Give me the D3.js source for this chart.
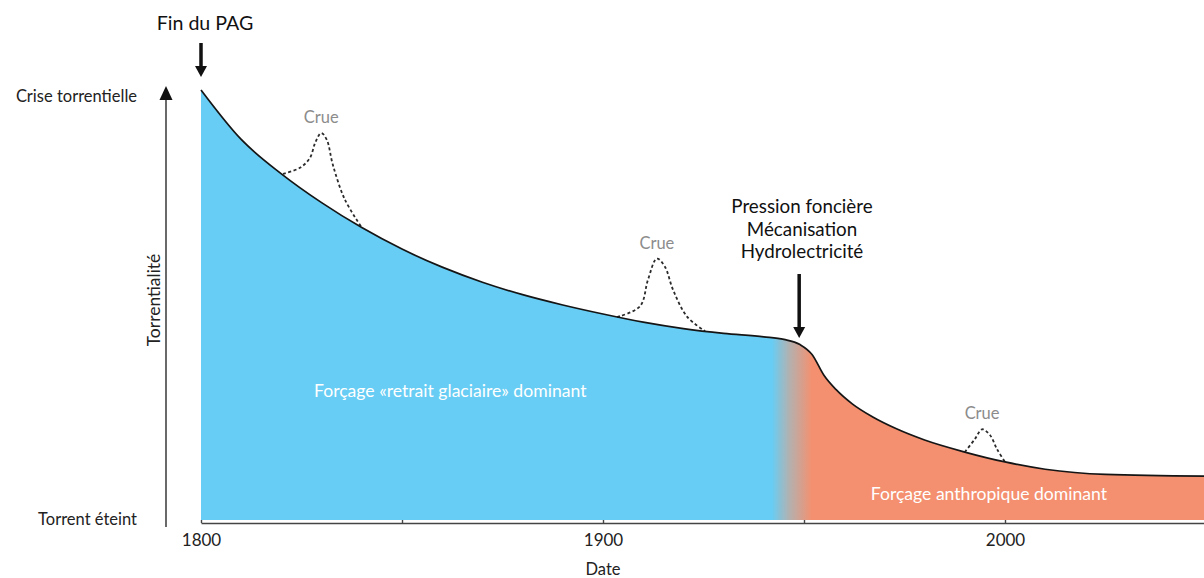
<!DOCTYPE html>
<html>
<head>
<meta charset="utf-8">
<script src="https://cdn.jsdelivr.net/npm/d3@7"></script>
<style>
	html, body { margin: 0; padding: 0; background: #fff; }
	svg { display: block; font-family: Lato, "Open Sans", sans-serif; }
</style>
</head>
<body>
<svg id="chart"></svg>
<script>
// Main curve: torrentiality (0 = extinct torrent, 100 = torrential crisis)
const years = [ 1800, 1810, 1820, 1830, 1840, 1850, 1860, 1870, 1880, 1890, 1900, 1910, 1920, 1930, 1940, 1945, 1949, 1952, 1955, 1958, 1962, 1967, 1973, 1980, 1990, 2000, 2010, 2025, 2050 ];
const torrentiality = [ 100, 88.5, 80.5, 73.8, 68.0, 63.0, 58.8, 55.3, 52.4, 50.0, 47.9, 46.0, 44.5, 43.4, 42.6, 42.0, 40.8, 38.5, 33.6, 30.3, 27.0, 24.0, 21.2, 18.6, 15.8, 13.5, 11.8, 10.6, 10.2 ];

// Flood peaks ("Crue"), dashed
const crue1Years = [ 1820.4, 1824.6, 1827.1, 1828.4, 1829.9, 1831.3, 1832.8, 1835.8, 1840 ];
const crue1Values = [ 80.5, 81.9, 84.2, 87.7, 90.0, 88.4, 82.6, 74.5, 68.0 ];
const crue2Years = [ 1903.5, 1909.2, 1911.2, 1913.4, 1915.4, 1917.4, 1920.9, 1925.4 ];
const crue2Values = [ 47.2, 49.7, 55.9, 60.8, 58.9, 53.6, 47.3, 43.9 ];
const crue3Years = [ 1990, 1992.5, 1994.3, 1996.3, 1998, 2000 ];
const crue3Values = [ 15.8, 18.8, 21.1, 19.7, 16.5, 13.5 ];

// Change of dominant forcing (glacial retreat -> human)
const transitionYears = [ 1942, 1952 ];

const tickYears = [ 1800, 1850, 1900, 1950, 2000 ];
const labelYears = [ 1800, 1900, 2000 ];
const yLabels = [ 'Torrent éteint', 'Crise torrentielle' ];
const causes = [ 'Pression foncière', 'Mécanisation', 'Hydrolectricité' ];

const width = 1204;
const height = 578;

const svg = d3.select( '#chart' )
	.attr( 'width', width )
	.attr( 'height', height );

const x = d3.scaleLinear()
	.domain( [ 1800, 2050 ] )
	.range( [ 201, 1206 ] );

const y = d3.scaleLinear()
	.domain( [ 0, 100 ] )
	.range( [ 520, 90 ] );

const curve = years.map( ( d, i ) => ( { year: d, value: torrentiality[ i ] } ) );

// gradient between the two forcings
const defs = svg.append( 'defs' );
const grad = defs.append( 'linearGradient' )
	.attr( 'id', 'forcing' )
	.attr( 'gradientUnits', 'userSpaceOnUse' )
	.attr( 'x1', x( transitionYears[ 0 ] ) )
	.attr( 'x2', x( transitionYears[ 1 ] ) )
	.attr( 'y1', 0 )
	.attr( 'y2', 0 );
grad.append( 'stop' ).attr( 'offset', 0 ).attr( 'stop-color', '#67cdf4' );
grad.append( 'stop' ).attr( 'offset', 0.45 ).attr( 'stop-color', '#b5b0ae' );
grad.append( 'stop' ).attr( 'offset', 1 ).attr( 'stop-color', '#f4906f' );

const area = d3.area()
	.x( ( d ) => x( d.year ) )
	.y0( y( 0 ) )
	.y1( ( d ) => y( d.value ) )
	.curve( d3.curveMonotoneX );

const line = d3.line()
	.x( ( d ) => x( d.year ) )
	.y( ( d ) => y( d.value ) )
	.curve( d3.curveMonotoneX );

svg.append( 'path' )
	.datum( curve )
	.attr( 'd', area )
	.attr( 'fill', 'url(#forcing)' );

// dashed flood peaks
const dashed = d3.line()
	.x( ( d ) => x( d.year ) )
	.y( ( d ) => y( d.value ) )
	.curve( d3.curveCatmullRom );

const crues = [
	[ crue1Years, crue1Values ],
	[ crue2Years, crue2Values ],
	[ crue3Years, crue3Values ],
];

crues.forEach( ( [ ys, vs ] ) => {
	const pts = ys.map( ( d, i ) => ( { year: d, value: vs[ i ] } ) );
	svg.append( 'path' )
		.datum( pts )
		.attr( 'd', dashed )
		.attr( 'fill', 'none' )
		.attr( 'stroke', '#2b2b2b' )
		.attr( 'stroke-width', 1.8 )
		.attr( 'stroke-dasharray', '3,2.5' );

	const peak = pts.reduce( ( a, b ) => ( b.value > a.value ? b : a ) );
	svg.append( 'text' )
		.attr( 'x', x( peak.year ) )
		.attr( 'y', y( peak.value ) - 10 )
		.attr( 'text-anchor', 'middle' )
		.attr( 'fill', '#8c8c8c' )
		.attr( 'font-size', 16.5 )
		.text( 'Crue' );
} );

svg.append( 'path' )
	.datum( curve )
	.attr( 'd', line )
	.attr( 'fill', 'none' )
	.attr( 'stroke', '#151515' )
	.attr( 'stroke-width', 1.7 );

// x axis
const xAxis = d3.axisBottom( x )
	.tickValues( tickYears )
	.tickSize( -3 )
	.tickSizeOuter( 0 )
	.tickPadding( 11 )
	.tickFormat( ( d ) => ( labelYears.includes( d ) ? d : '' ) );

const gx = svg.append( 'g' )
	.attr( 'transform', `translate(0,${ y( 0 ) + 3 })` )
	.call( xAxis );
gx.select( '.domain' ).attr( 'stroke', '#444' ).attr( 'stroke-width', 1.6 );
gx.selectAll( '.tick line' ).attr( 'stroke', '#444' ).attr( 'stroke-width', 1.4 );
gx.selectAll( '.tick text' )
	.attr( 'font-size', 17 )
	.attr( 'font-family', 'Lato, sans-serif' )
	.attr( 'fill', '#222' );

svg.append( 'text' )
	.attr( 'x', x( 1900 ) )
	.attr( 'y', 575 )
	.attr( 'text-anchor', 'middle' )
	.attr( 'font-size', 16.5 )
	.attr( 'fill', '#222' )
	.text( 'Date' );

// y axis with arrow
const axisX = 166;
svg.append( 'line' )
	.attr( 'x1', axisX )
	.attr( 'x2', axisX )
	.attr( 'y1', y( 0 ) + 7 )
	.attr( 'y2', y( 100 ) + 8 )
	.attr( 'stroke', '#444' )
	.attr( 'stroke-width', 1.6 );

svg.append( 'path' )
	.attr( 'd', `M${ axisX },${ y( 100 ) - 4 }l-6.5,14h13z` )
	.attr( 'fill', '#111' );

svg.selectAll( 'text.ylab' )
	.data( yLabels )
	.enter()
	.append( 'text' )
	.attr( 'class', 'ylab' )
	.attr( 'x', 137 )
	.attr( 'y', ( d, i ) => y( i * 100 ) + ( i ? 12 : 5 ) )
	.attr( 'text-anchor', 'end' )
	.attr( 'font-size', 16.5 )
	.attr( 'fill', '#222' )
	.text( ( d ) => d );

svg.append( 'text' )
	.attr( 'transform', `translate(${ axisX - 6 },${ ( y( 0 ) + y( 100 ) ) / 2 - 5 }) rotate(-90)` )
	.attr( 'text-anchor', 'middle' )
	.attr( 'font-size', 17.5 )
	.attr( 'fill', '#222' )
	.text( 'Torrentialité' );

// black annotation arrows
const drawArrow = ( cx, top, bottom ) => {
	svg.append( 'line' )
		.attr( 'x1', cx ).attr( 'x2', cx )
		.attr( 'y1', top ).attr( 'y2', bottom - 10 )
		.attr( 'stroke', '#111' )
		.attr( 'stroke-width', 3.5 );
	svg.append( 'path' )
		.attr( 'd', `M${ cx },${ bottom }l-6,-11h12z` )
		.attr( 'fill', '#111' );
};

drawArrow( x( 1800 ), 43, 77 );
svg.append( 'text' )
	.attr( 'x', x( 1800 ) + 4 )
	.attr( 'y', 30 )
	.attr( 'text-anchor', 'middle' )
	.attr( 'font-size', 19.6 )
	.attr( 'fill', '#111' )
	.text( 'Fin du PAG' );

drawArrow( x( 1948.8 ), 274, 338 );
svg.append( 'text' )
	.attr( 'text-anchor', 'middle' )
	.attr( 'font-size', 18.8 )
	.attr( 'fill', '#111' )
	.selectAll( 'tspan' )
	.data( causes )
	.enter()
	.append( 'tspan' )
	.attr( 'x', x( 1949.5 ) )
	.attr( 'y', ( d, i ) => 213 + i * 22.5 )
	.text( ( d ) => d );

// forcing labels
svg.append( 'text' )
	.attr( 'x', x( 1862 ) )
	.attr( 'y', 397 )
	.attr( 'text-anchor', 'middle' )
	.attr( 'font-size', 17.6 )
	.attr( 'fill', '#fff' )
	.text( 'Forçage «retrait glaciaire» dominant' );

svg.append( 'text' )
	.attr( 'x', x( 1996 ) )
	.attr( 'y', 500 )
	.attr( 'text-anchor', 'middle' )
	.attr( 'font-size', 17.6 )
	.attr( 'fill', '#fff' )
	.text( 'Forçage anthropique dominant' );
</script>
</body>
</html>
